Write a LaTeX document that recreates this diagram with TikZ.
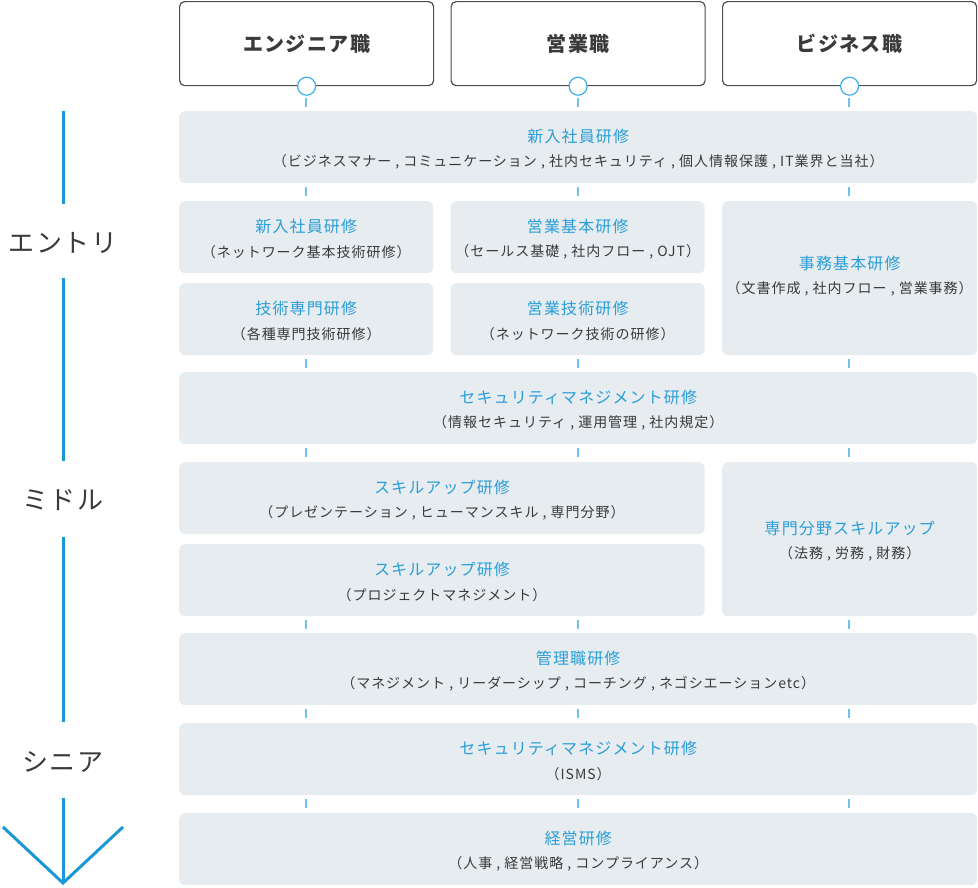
\documentclass[tikz,border=0pt]{standalone}
\usepackage{fontspec}
\setmainfont{Noto Sans CJK JP}[LetterSpace=7]
\usepackage{tikz}
\usetikzlibrary{positioning,calc}
\definecolor{cardgray}{HTML}{E6ECEF}
\definecolor{topicblue}{HTML}{2B9ED8}
\definecolor{textgray}{HTML}{3A3A3A}
\definecolor{framegray}{HTML}{4D4D4D}
\definecolor{portblue}{HTML}{3DAEE6}
\definecolor{tickblue}{HTML}{6EC3EE}
\definecolor{lineblue}{HTML}{1A98D5}

% one course card: [raise], name, x, y, width, height, title, detail
\newcommand{\course}[8][0]{%
  \node[card,minimum width=#5pt,minimum height=#6pt] (#2) at (#3,#4) {};
  \node[title] (#2-t) at ([yshift=11pt+#1pt]#2.center) {#7};
  \node[detail] (#2-d) at ([yshift=-15pt+#1pt]#2.center) {#8};}

\begin{document}
\begin{tikzpicture}[x=1pt,y=-1pt,
  jobbox/.style={draw=framegray,line width=1.2pt,rounded corners=5pt,fill=white,anchor=north west,
    minimum width=254pt,minimum height=84pt,text=textgray,font=\fontsize{20}{24}\selectfont\bfseries},
  card/.style={fill=cardgray,rounded corners=6pt,anchor=north west,inner sep=0pt},
  title/.style={text=topicblue,font=\fontsize{16}{18}\selectfont},
  detail/.style={text=textgray,font=\fontsize{14}{16}\selectfont},
  stage/.style={text=textgray,font=\fontsize{26}{28}\selectfont},
  port/.style={circle,draw=portblue,fill=white,line width=1.2pt,minimum size=18pt,inner sep=0pt},
  tick/.style={draw=tickblue,line width=1.5pt},
  timeline/.style={draw=lineblue,line width=3pt}]
\useasboundingbox (0,0) rectangle (978,887);

% job headers
\node[jobbox] (eng) at (179,1) {エンジニア職};
\node[jobbox] (sales) at (450.5,1) {営業職};
\node[jobbox] (biz) at (722,1) {ビジネス職};
\node[port] (eng-p) at (eng.south) {};
\node[port] (sales-p) at (sales.south) {};
\node[port] (biz-p) at (biz.south) {};

% ticks between rows
\foreach \y in {98,187,359,448,620,709,799}
  \foreach \x in {306,578,849}
    \draw[tick] (\x,\y) -- (\x,\y+9);

% courses
\course{newhire}{179}{111}{798}{72}{新入社員研修}{（ビジネスマナー , コミュニケーション , 社内セキュリティ , 個人情報保護 , IT業界と当社）}
\course{netbase}{179}{201}{254}{72}{新入社員研修}{（ネットワーク基本技術研修）}
\course{salesbase}{450.5}{201}{254}{72}{営業基本研修}{（セールス基礎 , 社内フロー , OJT）}
\course[4]{office}{722}{201}{255}{154}{事務基本研修}{（文書作成 , 社内フロー , 営業事務）}
\course{special}{179}{283}{254}{72}{技術専門研修}{（各種専門技術研修）}
\course{salestech}{450.5}{283}{254}{72}{営業技術研修}{（ネットワーク技術の研修）}
\course{secmid}{179}{372}{798}{72}{セキュリティマネジメント研修}{（情報セキュリティ , 運用管理 , 社内規定）}
\course{skillA}{179}{462}{525.5}{72}{スキルアップ研修}{（プレゼンテーション , ヒューマンスキル , 専門分野）}
\course{skillB}{179}{544}{525.5}{72}{スキルアップ研修}{（プロジェクトマネジメント）}
\course{expert}{722}{462}{255}{154}{専門分野スキルアップ}{（法務 , 労務 , 財務）}
\course{manager}{179}{633}{798}{72}{管理職研修}{（マネジメント , リーダーシップ , コーチング , ネゴシエーションetc）}
\course{secsen}{179}{723}{798}{72}{セキュリティマネジメント研修}{（ISMS）}
\course{exec}{179}{813}{798}{72}{経営研修}{（人事 , 経営戦略 , コンプライアンス）}

% career stages
\node[stage] (entry) at (63,243) {エントリ};
\node[stage] (middle) at (63,500) {ミドル};
\node[stage] (senior) at (63,762) {シニア};
\coordinate (tl-a) at (63,111);
\coordinate (tl-b) at (63,204);
\coordinate (tl-c) at (63,278);
\coordinate (tl-d) at (63,461);
\coordinate (tl-e) at (63,537);
\coordinate (tl-f) at (63,722);
\coordinate (tl-g) at (63,798);
\coordinate (tl-h) at (63,883);
\coordinate (arm-l) at (3,827);
\coordinate (arm-r) at (123,827);
\draw[timeline] (tl-a) -- (tl-b);
\draw[timeline] (tl-c) -- (tl-d);
\draw[timeline] (tl-e) -- (tl-f);
\draw[timeline] (tl-g) -- (tl-h);
\draw[timeline] (arm-l) -- (tl-h) -- (arm-r);
\end{tikzpicture}
\end{document}
